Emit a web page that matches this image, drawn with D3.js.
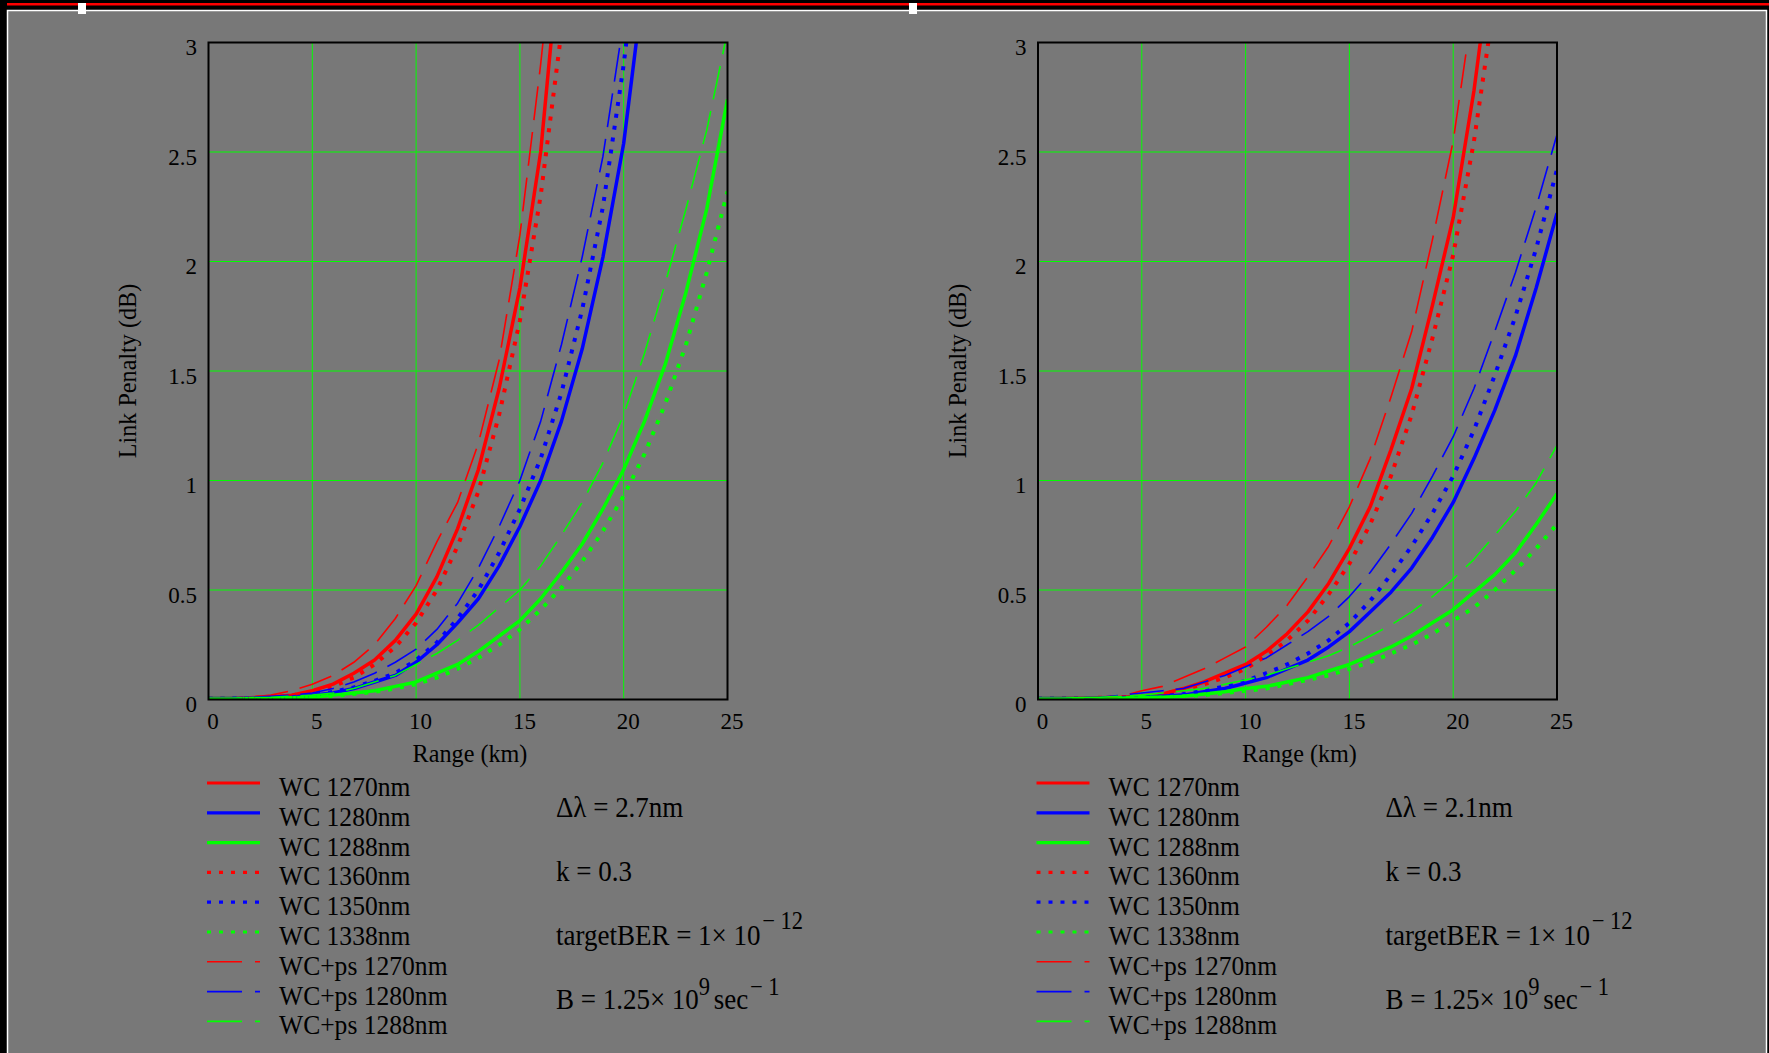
<!DOCTYPE html>
<html>
<head>
<meta charset="utf-8">
<script src="https://cdn.jsdelivr.net/npm/d3@7"></script>
<style>
  body { margin: 0; background: #000; }
  svg { display: block; }
  text { font-family: "Liberation Serif", "Times New Roman", serif; fill: #000; }
</style>
</head>
<body>
<svg id="chart" width="1769" height="1053"></svg>
<script>
// ---- data ----
var rangeKm = [0,1,2,3,4,5,6,7,8,9,10,11,12,13,14,15,16,17,18,19,20,21,22,23,24,25];
var xTicks = [0,5,10,15,20,25];
var yTicks = [0,0.5,1,1.5,2,2.5,3];

var legendNames = ["WC 1270nm","WC 1280nm","WC 1288nm","WC 1360nm","WC 1350nm","WC 1338nm","WC+ps 1270nm","WC+ps 1280nm","WC+ps 1288nm"];
var legendColors = ["#ff0000","#0000ff","#00ff00","#ff0000","#0000ff","#00ff00","#ff0000","#0000ff","#00ff00"];
var legendStyles = ["solid","solid","solid","dot","dot","dot","dash","dash","dash"];
var deltaLambda = ["2.7nm","2.1nm"];

// left panel, delta lambda = 2.7nm
var wc1270A = [0.005,0.005,0.008,0.012,0.02,0.04,0.07,0.12,0.18,0.27,0.39,0.56,0.78,1.05,1.42,1.88,2.5,3.5];
var wc1280A = [0.005,0.005,0.006,0.008,0.01,0.02,0.03,0.05,0.08,0.11,0.17,0.25,0.35,0.46,0.61,0.79,1.0,1.27,1.6,2.02,2.54,3.3];
var wc1288A = [0.005,0.005,0.005,0.006,0.008,0.01,0.02,0.03,0.04,0.06,0.08,0.12,0.16,0.22,0.29,0.36,0.46,0.58,0.71,0.87,1.05,1.27,1.53,1.86,2.24,2.74];
var wc1360A = [0.005,0.005,0.007,0.01,0.018,0.035,0.06,0.1,0.16,0.24,0.35,0.5,0.7,0.95,1.3,1.73,2.3,3.05];
var wc1350A = [0.005,0.005,0.006,0.008,0.01,0.02,0.035,0.055,0.085,0.12,0.18,0.26,0.37,0.5,0.67,0.87,1.1,1.4,1.78,2.25,2.9,3.7];
var wc1338A = [0.003,0.003,0.004,0.005,0.007,0.01,0.015,0.025,0.035,0.05,0.07,0.1,0.14,0.19,0.25,0.32,0.41,0.51,0.63,0.77,0.93,1.12,1.35,1.62,1.95,2.32];
var ps1270A = [0.005,0.006,0.01,0.02,0.04,0.07,0.11,0.17,0.25,0.37,0.52,0.72,0.9,1.17,1.55,2.12,2.9,3.8];
var ps1280A = [0.005,0.006,0.01,0.015,0.02,0.03,0.05,0.08,0.12,0.17,0.23,0.32,0.44,0.6,0.79,1.0,1.27,1.62,2.02,2.48,3.1];
var ps1288A = [0.005,0.006,0.008,0.01,0.015,0.02,0.03,0.05,0.08,0.11,0.16,0.21,0.27,0.34,0.42,0.5,0.61,0.75,0.9,1.08,1.3,1.58,1.9,2.24,2.6,3.05];

// right panel, delta lambda = 2.1nm
var wc1270B = [0.005,0.005,0.006,0.008,0.01,0.015,0.025,0.05,0.08,0.12,0.16,0.22,0.3,0.4,0.53,0.69,0.88,1.14,1.42,1.8,2.2,2.78,3.5];
var wc1280B = [0.005,0.005,0.005,0.006,0.008,0.01,0.015,0.02,0.035,0.05,0.075,0.1,0.14,0.18,0.24,0.31,0.4,0.49,0.6,0.74,0.9,1.1,1.32,1.57,1.88,2.22];
var wc1288B = [0.005,0.005,0.005,0.006,0.008,0.01,0.01,0.015,0.025,0.035,0.05,0.06,0.08,0.1,0.13,0.16,0.2,0.24,0.29,0.35,0.41,0.49,0.57,0.67,0.8,0.94];
var wc1360B = [0.005,0.005,0.006,0.008,0.01,0.015,0.025,0.045,0.07,0.1,0.14,0.2,0.27,0.36,0.48,0.62,0.8,1.02,1.3,1.65,2.03,2.55,3.2];
var wc1350B = [0.005,0.005,0.005,0.006,0.008,0.01,0.015,0.025,0.04,0.06,0.085,0.12,0.16,0.21,0.27,0.35,0.45,0.57,0.7,0.85,1.02,1.23,1.48,1.75,2.06,2.42];
var wc1338B = [0.003,0.003,0.004,0.005,0.005,0.006,0.01,0.015,0.02,0.03,0.04,0.05,0.07,0.09,0.11,0.14,0.17,0.21,0.25,0.3,0.36,0.42,0.5,0.59,0.69,0.8];
var ps1270B = [0.005,0.006,0.008,0.01,0.015,0.04,0.06,0.1,0.14,0.19,0.24,0.33,0.43,0.56,0.7,0.88,1.1,1.38,1.68,2.1,2.55,3.2];
var ps1280B = [0.005,0.006,0.008,0.01,0.02,0.03,0.04,0.05,0.08,0.11,0.15,0.19,0.25,0.31,0.38,0.47,0.58,0.71,0.85,1.02,1.2,1.42,1.68,1.95,2.25,2.58];
var ps1288B = [0.005,0.006,0.008,0.01,0.015,0.02,0.03,0.04,0.05,0.07,0.09,0.11,0.14,0.17,0.2,0.24,0.29,0.34,0.4,0.47,0.55,0.64,0.75,0.86,0.99,1.16];

var seriesA = [wc1270A, wc1280A, wc1288A, wc1360A, wc1350A, wc1338A, ps1270A, ps1280A, ps1288A];
var seriesB = [wc1270B, wc1280B, wc1288B, wc1360B, wc1350B, wc1338B, ps1270B, ps1280B, ps1288B];

// ---- drawing ----
var svg = d3.select("#chart");
var W = 1769, H = 1053;

// window chrome: black back, red strip, white frame, gray sheet
svg.append("rect").attr("x", 0).attr("y", 0).attr("width", W).attr("height", H).attr("fill", "#000");
svg.append("rect").attr("x", 7).attr("y", 3).attr("width", W - 7).attr("height", 2.5).attr("fill", "#ff0000");
svg.append("rect").attr("x", 7.5).attr("y", 10.5).attr("width", 1759).attr("height", H)
  .attr("fill", "#787878").attr("stroke", "#fff").attr("stroke-width", 1.5);
svg.append("rect").attr("x", 78).attr("y", 3).attr("width", 8).attr("height", 11).attr("fill", "#fff");
svg.append("rect").attr("x", 909).attr("y", 3).attr("width", 8).attr("height", 11).attr("fill", "#fff");

var lineStyle = {
  solid: { w: 3.5, dash: null },
  dot:   { w: 4,   dash: "4,8" },
  dash:  { w: 1.6, dash: "34,12" }
};

var plotW = 519, plotH = 657;

function scaledText(g, x, y, size, sx) {
  return g.append("text")
    .attr("transform", "translate(" + x + "," + y + ") scale(" + sx + ",1)")
    .attr("font-size", size);
}

function drawPanel(offsetX, series, dl, id) {
  var left = 208.5 + offsetX, top = 42.5;
  var g = svg.append("g").attr("transform", "translate(" + left + "," + top + ")");

  var x = d3.scaleLinear().domain([0, 25]).range([0, plotW]);
  var y = d3.scaleLinear().domain([0, 3]).range([plotH, 0]);

  // grid
  g.append("g").selectAll("line.v").data(xTicks).enter().append("line")
    .attr("x1", function (d) { return x(d); }).attr("x2", function (d) { return x(d); })
    .attr("y1", 0).attr("y2", plotH)
    .attr("stroke", "#00ff00").attr("stroke-width", 1);
  g.append("g").selectAll("line.h").data(yTicks).enter().append("line")
    .attr("y1", function (d) { return y(d); }).attr("y2", function (d) { return y(d); })
    .attr("x1", 0).attr("x2", plotW)
    .attr("stroke", "#00ff00").attr("stroke-width", 1);

  // tick labels
  var xAxis = g.append("g").attr("transform", "translate(0," + plotH + ")")
    .call(d3.axisBottom(x).tickValues(xTicks).tickSize(0).tickPadding(13).tickFormat(d3.format("~g")));
  xAxis.select(".domain").remove();
  xAxis.attr("font-family", null).attr("font-size", 23);
  xAxis.selectAll("text").attr("x", 4).attr("fill", "#000");

  var yAxis = g.append("g")
    .call(d3.axisLeft(y).tickValues(yTicks).tickSize(0).tickPadding(11.5).tickFormat(d3.format("~g")));
  yAxis.select(".domain").remove();
  yAxis.attr("font-family", null).attr("font-size", 23);
  yAxis.selectAll("text").attr("y", 5).attr("fill", "#000");

  // curves
  g.append("clipPath").attr("id", "clip" + id)
    .append("rect").attr("x", 0).attr("y", 0).attr("width", plotW).attr("height", plotH);

  var line = d3.line()
    .x(function (d, i) { return x(rangeKm[i]); })
    .y(function (d) { return y(d); });

  var curves = g.append("g").attr("clip-path", "url(#clip" + id + ")");
  series.forEach(function (vals, i) {
    var st = lineStyle[legendStyles[i]];
    curves.append("path").datum(vals)
      .attr("d", line)
      .attr("fill", "none")
      .attr("stroke", legendColors[i])
      .attr("stroke-width", st.w)
      .attr("stroke-dasharray", st.dash)
      .attr("stroke-linejoin", "round");
  });

  // frame
  g.append("rect").attr("x", 0).attr("y", 0).attr("width", plotW).attr("height", plotH)
    .attr("fill", "none").attr("stroke", "#000").attr("stroke-width", 2);

  // axis titles
  scaledText(svg, left + plotW / 2 + 2, 762, 26, 0.93).attr("text-anchor", "middle").text("Range (km)");
  svg.append("text")
    .attr("transform", "translate(" + (136 + offsetX) + "," + (top + plotH / 2) + ") rotate(-90) scale(0.93,1)")
    .attr("font-size", 26).attr("text-anchor", "middle").text("Link Penalty (dB)");

  // legend
  legendNames.forEach(function (name, i) {
    var ly = 796 + i * 29.8;
    var st = lineStyle[legendStyles[i]];
    svg.append("line")
      .attr("x1", 207 + offsetX).attr("x2", 260 + offsetX)
      .attr("y1", ly - 13).attr("y2", ly - 13)
      .attr("stroke", legendColors[i])
      .attr("stroke-width", legendStyles[i] === "dash" ? 1.6 : 3.2)
      .attr("stroke-dasharray", legendStyles[i] === "dash" ? "35,13" : st.dash);
    scaledText(svg, 279 + offsetX, ly, 27.5, 0.93).text(name);
  });

  // parameter notes
  var ax = 556 + offsetX;
  scaledText(svg, ax, 817, 30, 0.9).text("Δλ = " + dl);
  scaledText(svg, ax, 881, 30, 0.9).text("k = 0.3");
  var t1 = scaledText(svg, ax, 945, 30, 0.9);
  t1.append("tspan").text("targetBER = 1×\u00a010");
  t1.append("tspan").attr("dy", -16).attr("font-size", 25).attr("dx", 2).text("−\u00a012");
  var t2 = scaledText(svg, ax, 1009, 30, 0.9);
  t2.append("tspan").text("B = 1.25×\u00a010");
  t2.append("tspan").attr("dy", -14).attr("font-size", 25).text("9");
  t2.append("tspan").attr("dy", 14).attr("dx", 4).text("sec");
  t2.append("tspan").attr("dy", -14).attr("font-size", 25).attr("dx", 2).text("−\u00a01");
}

drawPanel(0, seriesA, deltaLambda[0], "A");
drawPanel(829.5, seriesB, deltaLambda[1], "B");
</script>
</body>
</html>
